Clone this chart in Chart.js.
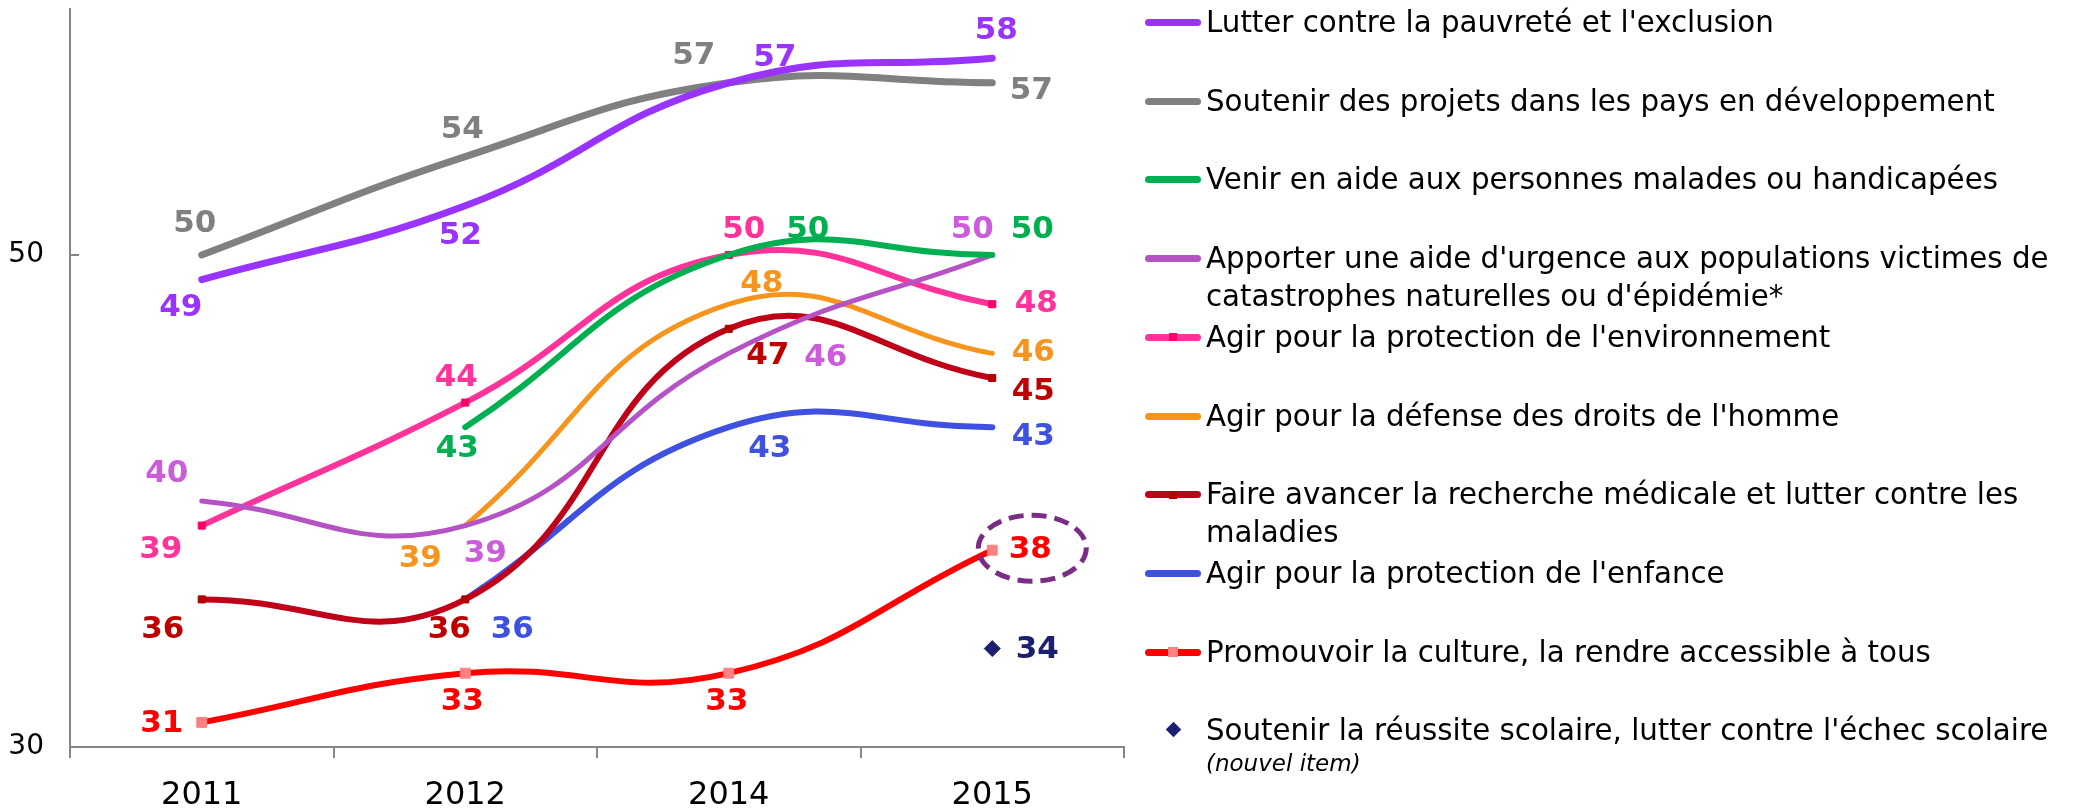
<!DOCTYPE html>
<html>
<head>
<meta charset="utf-8">
<script src="https://cdn.jsdelivr.net/npm/chart.js@4/dist/chart.umd.min.js"></script>
<style>
  body { margin: 0; background: #fff; }
  #wrap { position: relative; width: 2074px; height: 811px; }
  #legend .item {
    position: absolute; left: 1145px;
    font: 29.3px "DejaVu Sans", Verdana, sans-serif; line-height: 38px;
    white-space: pre; color: #000;
  }
  #legend .sample { position: absolute; left: 0; top: 16px; width: 56px; height: 7px; border-radius: 3.5px; }
  #legend .mark { position: absolute; }
  #legend .txt { display: block; margin-left: 61px; }
  #legend .note { display: block; margin-left: 61px; font-size: 23px; font-style: italic; line-height: 28px; }
</style>
</head>
<body>
<div id="wrap">
  <canvas id="chart" width="2074" height="811"></canvas>
  <div id="legend"></div>
</div>
<script>
const years = ["2011", "2012", "2014", "2015"];
const yTicks = [30, 50];

const pauvrete = [49, 52, 57, 58];
const developpement = [50, 54, 57, 57];
const malades = [null, 43, 50, 50];
const urgence = [40, 39, 46, 50];
const environnement = [39, 44, 50, 48];
const droits = [null, 39, 48, 46];
const recherche = [36, 36, 47, 45];
const enfance = [null, 36, 43, 43];
const culture = [31, 33, 33, 38];
const scolaire = [null, null, null, 34];

const seriesNames = [
    "Lutter contre la pauvreté et l'exclusion",
    "Soutenir des projets dans les pays en développement",
    "Venir en aide aux personnes malades ou handicapées",
    "Apporter une aide d'urgence aux populations victimes de\ncatastrophes naturelles ou d'épidémie*",
    "Agir pour la protection de l'environnement",
    "Agir pour la défense des droits de l'homme",
    "Faire avancer la recherche médicale et lutter contre les\nmaladies",
    "Agir pour la protection de l'enfance",
    "Promouvoir la culture, la rendre accessible à tous",
    "Soutenir la réussite scolaire, lutter contre l'échec scolaire"
];
const legendNotes = [null, null, null, null, null, null, null, null, null, "(nouvel item)"];

const allSeries = [pauvrete, developpement, malades, urgence, environnement, droits, recherche, enfance, culture, scolaire];

// styles
const lineColors = ["#9933FF", "#808080", "#00B050", "#B552C4", "#FF3399", "#F7941D", "#C00018", "#3F51E0", "#FF0000", "#1B2170"];
const labelColors = ["#9933FF", "#808080", "#00B050", "#CC5CDB", "#FF3399", "#F7941D", "#C00000", "#3F51E0", "#FF0000", "#1B2170"];
const lineWidths = [7, 7, 6, 5, 6, 5, 6, 6, 6, 0];
const pointStyles = ["circle", "circle", "circle", "circle", "rect", "circle", "rect", "circle", "rect", "rectRot"];
const pointRadii = [0, 0, 0, 0, 5, 0, 5, 0, 7, 8];
const pointFills = [null, null, null, null, "#FF0066", null, "#B00000", null, "#FF8080", "#1B2170"];

// label placement relative to each point
const labelOffsets = [
    [[-21, 28], [-5, 30], [46, -25], [4, -27]],
    [[-7, -31], [-3, -27], [-35, -27], [39, 8]],
    [null, [-8, 22], [79, -25], [40, -25]],
    [[-35, -27], [20, 28], [97, 5], [-20, -25]],
    [[-41, 24], [-9, -25], [15, -25], [44, 0]],
    [null, [-45, 33], [33, -20], [41, 0]],
    [[-39, 31], [-16, 31], [39, 27], [41, 14]],
    [null, [47, 31], [41, 22], [41, 10]],
    [[-40, 2], [-3, 29], [-2, 29], [38, 0]],
    [null, null, null, [45, 1]]
];

const datasets = allSeries.map((values, i) => ({
    label: seriesNames[i].replace("\n", " "),
    data: values,
    borderColor: lineColors[i],
    backgroundColor: lineColors[i],
    borderWidth: lineWidths[i],
    showLine: lineWidths[i] > 0,
    pointStyle: pointStyles[i],
    pointRadius: pointRadii[i],
    pointBackgroundColor: pointFills[i] || lineColors[i],
    pointBorderColor: pointFills[i] || lineColors[i],
    pointBorderWidth: 1,
    tension: 0.45,
    borderCapStyle: "round",
    fill: false
}));

// inside tick marks on the y axis
const yTickMarks = {
    id: "yTickMarks",
    afterDraw(chart) {
        const ctx = chart.ctx;
        const y = chart.scales.y;
        ctx.save();
        ctx.strokeStyle = "#868686";
        ctx.lineWidth = 2;
        yTicks.forEach((v) => {
            const py = Math.round(y.getPixelForValue(v));
            ctx.beginPath();
            ctx.moveTo(y.right, py);
            ctx.lineTo(y.right + 9, py);
            ctx.stroke();
        });
        ctx.restore();
    }
};

// value labels and the dashed circle around the last culture value
const valueLabels = {
    id: "valueLabels",
    afterDatasetsDraw(chart) {
        const ctx = chart.ctx;
        ctx.save();
        ctx.font = "bold 31px 'DejaVu Sans'";
        ctx.textAlign = "center";
        ctx.textBaseline = "middle";
        chart.data.datasets.forEach((ds, i) => {
            const meta = chart.getDatasetMeta(i);
            ds.data.forEach((v, j) => {
                if (v === null || !labelOffsets[i][j]) return;
                const pt = meta.data[j];
                ctx.fillStyle = labelColors[i];
                ctx.fillText(String(v), pt.x + labelOffsets[i][j][0], pt.y + labelOffsets[i][j][1]);
            });
        });

        const last = chart.getDatasetMeta(8).data[3];
        ctx.strokeStyle = "#7B2C86";
        ctx.lineWidth = 5;
        ctx.setLineDash([15, 8]);
        ctx.beginPath();
        ctx.ellipse(last.x + 40, last.y - 2, 54, 33, 0, 0, Math.PI * 2);
        ctx.stroke();
        ctx.restore();
    }
};

const ctx = document.getElementById("chart").getContext("2d");
const myChart = new Chart(ctx, {
    type: "line",
    data: { labels: years, datasets: datasets },
    options: {
        responsive: false,
        animation: false,
        layout: { padding: { top: 8, right: 950, left: 0, bottom: 0 } },
        plugins: {
            legend: { display: false },
            tooltip: { enabled: false }
        },
        scales: {
            x: {
                offset: true,
                grid: { offset: true, drawOnChartArea: false, color: "#868686", lineWidth: 2, tickLength: 11 },
                border: { color: "#868686", width: 2 },
                ticks: { font: { family: "DejaVu Sans", size: 32 }, color: "#000", padding: 18 },
                afterFit(scale) {
                    scale.height = 64;
                    scale.paddingLeft = 0;
                    scale.paddingRight = 0;
                }
            },
            y: {
                min: 30,
                max: 60,
                afterBuildTicks(scale) { scale.ticks = yTicks.map((v) => ({ value: v })); },
                grid: { drawOnChartArea: false, drawTicks: false },
                border: { color: "#868686", width: 2 },
                ticks: { font: { family: "DejaVu Sans", size: 28 }, color: "#000", padding: 26 },
                afterFit(scale) {
                    scale.width = 70;
                    scale.paddingTop = 0;
                    scale.paddingBottom = 0;
                }
            }
        }
    },
    plugins: [yTickMarks, valueLabels]
});

// legend on the right, evenly spaced like the original
const legend = document.getElementById("legend");
seriesNames.forEach((name, i) => {
    const item = document.createElement("div");
    item.className = "item";
    item.style.top = (22 + i * 78.7 - 19) + "px";

    if (lineWidths[i] > 0) {
        const sample = document.createElement("span");
        sample.className = "sample";
        sample.style.background = lineColors[i];
        item.appendChild(sample);
    }
    if (pointRadii[i] > 0) {
        const mark = document.createElement("span");
        mark.className = "mark";
        if (pointStyles[i] === "rectRot") {
            mark.style.left = "23px"; mark.style.top = "13px";
            mark.style.width = "11px"; mark.style.height = "11px";
            mark.style.transform = "rotate(45deg)";
        } else {
            const s = pointRadii[i] > 5 ? 10 : 8;
            mark.style.left = (28 - s / 2) + "px"; mark.style.top = (19.5 - s / 2) + "px";
            mark.style.width = s + "px"; mark.style.height = s + "px";
        }
        mark.style.background = pointFills[i];
        item.appendChild(mark);
    }

    const txt = document.createElement("span");
    txt.className = "txt";
    txt.textContent = name;
    item.appendChild(txt);

    if (legendNotes[i]) {
        const note = document.createElement("span");
        note.className = "note";
        note.textContent = legendNotes[i];
        item.appendChild(note);
    }
    legend.appendChild(item);
});
</script>
</body>
</html>
